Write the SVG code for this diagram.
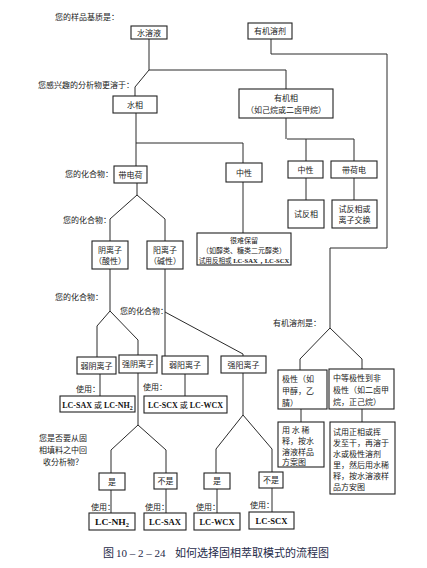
<svg xmlns="http://www.w3.org/2000/svg" width="427" height="568" viewBox="0 0 427 568">
<style>
.b{fill:#fff;stroke:#222;stroke-width:1.1}
.t{font-family:"Noto Sans CJK SC","Noto Sans",sans-serif;font-size:8px;fill:#1a1a1a}
.c{text-anchor:middle}
.lc{font-family:"Liberation Serif","Noto Sans CJK SC",serif;font-size:9px;font-weight:bold;fill:#111;text-anchor:middle}
.ln{fill:none;stroke:#2a2a2a;stroke-width:1}
.cap{font-family:"Liberation Serif","Noto Sans CJK SC",serif;font-size:11px;fill:#1e2a48}
.capc{font-family:"Noto Sans CJK SC",sans-serif;font-size:11px;fill:#1e2a48}
.cj{font-family:"Noto Sans CJK SC",sans-serif;font-weight:normal;font-size:8px}
</style>
<rect width="427" height="568" fill="#fff"/>
<g id="connectors" class="ln">
<path d="M149,39 V70 H286 V89"/>
<path d="M149,70 L135,87 V96"/>
<path d="M271,39 V54 H387 V248 H330 V328"/>
<path d="M330,328 L300,359 V370 M330,328 L362,359 V369"/>
<path d="M301,409 V422 M362,409 V422"/>
<path d="M136,113 V166 M136,143 H243 V163"/>
<path d="M243,182 V233"/>
<path d="M286,118 V139 M287,139 H354 M306,139 V161 M354,139 V161"/>
<path d="M306,178 V200 M354,178 V200"/>
<path d="M137,183 V195 L110,219 V241 M137,195 L165,219 V241"/>
<path d="M110,269 V311 L97,326 V357 M110,311 L138,340 V355"/>
<path d="M165,269 V356 M165,312 L243,354 V356"/>
<path d="M100,374 V396"/>
<path d="M138,373 V425 L111,450 V473 M138,425 L166,450 V473"/>
<path d="M185,374 V396"/>
<path d="M243,373 V415 L216,449 V473 M243,415 L272,449 V472"/>
<path d="M111,490 V513 M166,489 V513 M217,489 V513 M272,488 V512"/>
</g>
<g id="labels" class="t">
<text x="55" y="20">您的样品基质是：</text>
<text x="38" y="88">您感兴趣的分析物更溶于：</text>
<text x="65" y="177">您的化合物：</text>
<text x="63" y="223">您的化合物：</text>
<text x="55" y="300">您的化合物：</text>
<text x="120" y="314">您的化合物：</text>
<text x="273" y="326">有机溶剂是：</text>
<text x="76" y="392">使用：</text>
<text x="143" y="390">使用：</text>
<text x="91" y="510">使用：</text>
<text x="145" y="510">使用：</text>
<text x="196" y="510">使用：</text>
<text x="250" y="508">使用：</text>
<text x="63" y="441" class="c">您是否要从固</text>
<text x="63" y="453" class="c">相填料之中回</text>
<text x="63" y="465" class="c">收分析物？</text>
</g>
<g id="n_shuirongye"><rect class="b" x="131" y="26" width="36" height="13"/><text class="t c" x="149" y="35.5">水溶液</text></g>
<g id="n_youjirongji"><rect class="b" x="248" y="23" width="44" height="16"/><text class="t c" x="270" y="34">有机溶剂</text></g>
<g id="n_shuixiang"><rect class="b" x="113" y="96" width="44" height="17"/><text class="t c" x="135" y="107.5">水相</text></g>
<g id="n_youjixiang"><rect class="b" x="239" y="89" width="94" height="29"/><text class="t c" x="286" y="101">有机相</text><text class="t c" x="286" y="113">（如己烷或二卤甲烷）</text></g>
<g id="n_daidianhe"><rect class="b" x="114" y="166" width="33" height="17"/><text class="t c" x="130.5" y="177.5">带电荷</text></g>
<g id="n_zhongxing1"><rect class="b" x="226" y="163" width="36" height="19"/><text class="t c" x="244" y="175.5">中性</text></g>
<g id="n_zhongxing2"><rect class="b" x="288" y="161" width="35" height="17"/><text class="t c" x="305.5" y="172.5">中性</text></g>
<g id="n_daihedian"><rect class="b" x="331" y="161" width="46" height="17"/><text class="t c" x="354" y="172.5">带荷电</text></g>
<g id="n_shifanxiang"><rect class="b" x="288" y="200" width="36" height="28"/><text class="t c" x="306" y="217">试反相</text></g>
<g id="n_shifanxianghuo"><rect class="b" x="332" y="200" width="45" height="28"/><text class="t c" x="354.5" y="212">试反相或</text><text class="t c" x="354.5" y="223">离子交换</text></g>
<g id="n_yinlizi"><rect class="b" x="92" y="241" width="36" height="28"/><text class="t c" x="110" y="253">阴离子</text><text class="t c" x="110" y="264">（酸性）</text></g>
<g id="n_yanglizi"><rect class="b" x="147" y="241" width="36" height="28"/><text class="t c" x="165" y="253">阳离子</text><text class="t c" x="165" y="264">（碱性）</text></g>
<g id="n_hennan"><rect class="b" x="197" y="233" width="94" height="32"/><text class="t c" x="244" y="243" style="font-size:7px">很难保留</text><text class="t c" x="244" y="253" style="font-size:7px">（如醇类、糖类二元醇类）</text><text class="t c" x="244" y="262.5" style="font-size:6.6px">试用反相或 <tspan style="font-family:'Liberation Serif',serif;font-weight:bold">LC-SAX，LC-SCX</tspan></text></g>
<g id="n_ruoyin"><rect class="b" x="77" y="357" width="39" height="17"/><text class="t c" x="96.5" y="368.5">弱阴离子</text></g>
<g id="n_qiangyin"><rect class="b" x="119" y="355" width="38" height="18"/><text class="t c" x="138" y="367">强阴离子</text></g>
<g id="n_ruoyang"><rect class="b" x="162" y="356" width="46" height="18"/><text class="t c" x="185" y="368">弱阳离子</text></g>
<g id="n_qiangyang"><rect class="b" x="221" y="356" width="45" height="17"/><text class="t c" x="243.5" y="367.5">强阳离子</text></g>
<g id="n_lc1"><rect class="b" x="60" y="396" width="75" height="16"/><text class="lc" x="97.5" y="407.5" style="font-size:8px">LC-SAX <tspan class="cj">或</tspan> LC-NH<tspan style="font-size:6px" dy="2">2</tspan></text></g>
<g id="n_lc2"><rect class="b" x="144" y="396" width="83" height="17"/><text class="lc" x="185.5" y="408" style="font-size:8px">LC-SCX <tspan class="cj">或</tspan> LC-WCX</text></g>
<g id="n_jixing"><rect class="b" x="278" y="370" width="49" height="39"/><text class="t" x="282" y="382">极性（如</text><text class="t" x="282" y="394">甲醇，乙</text><text class="t" x="282" y="406">腈）</text></g>
<g id="n_zhongdeng"><rect class="b" x="329" y="369" width="65" height="40"/><text class="t" x="333" y="381">中等极性到非</text><text class="t" x="333" y="393">极性（如二卤甲</text><text class="t" x="333" y="405">烷，正己烷）</text></g>
<g id="n_yongshui"><rect class="b" x="278" y="422" width="46" height="45"/><text class="t" x="282" y="433">用 水 稀</text><text class="t" x="282" y="444">释，按水</text><text class="t" x="282" y="455">溶液样品</text><text class="t" x="282" y="465">方案图</text></g>
<g id="n_shiyong"><rect class="b" x="330" y="422" width="65" height="72"/><text class="t" x="333" y="435">试用正相或挥</text><text class="t" x="333" y="446">发至干，再溶于</text><text class="t" x="333" y="457">水或极性溶剂</text><text class="t" x="333" y="468">里，然后用水稀</text><text class="t" x="333" y="479">释，按水溶液样</text><text class="t" x="333" y="490">品方安图</text></g>
<g id="n_shi1"><rect class="b" x="99" y="473" width="26" height="17"/><text class="t c" x="112" y="484.5">是</text></g>
<g id="n_bushi1"><rect class="b" x="154" y="473" width="23" height="16"/><text class="t c" x="165.5" y="484">不是</text></g>
<g id="n_shi2"><rect class="b" x="204" y="473" width="26" height="16"/><text class="t c" x="217" y="484">是</text></g>
<g id="n_bushi2"><rect class="b" x="259" y="472" width="24" height="16"/><text class="t c" x="271" y="483">不是</text></g>
<g id="n_nh2"><rect class="b" x="89" y="513" width="46" height="17"/><text class="lc" x="112" y="525" textLength="34" lengthAdjust="spacingAndGlyphs">LC-NH<tspan style="font-size:6px" dy="2">2</tspan></text></g>
<g id="n_sax"><rect class="b" x="144" y="513" width="42" height="17"/><text class="lc" x="165" y="525" textLength="32" lengthAdjust="spacingAndGlyphs">LC-SAX</text></g>
<g id="n_wcx"><rect class="b" x="194" y="513" width="46" height="17"/><text class="lc" x="217" y="525" textLength="35" lengthAdjust="spacingAndGlyphs">LC-WCX</text></g>
<g id="n_scx"><rect class="b" x="249" y="512" width="45" height="17"/><text class="lc" x="271.5" y="524" textLength="32" lengthAdjust="spacingAndGlyphs">LC-SCX</text></g>
<g id="caption"><text x="103" y="557"><tspan class="capc">图</tspan><tspan class="cap" x="116">10 – 2 – 24</tspan><tspan class="capc" x="175">如何选择固相萃取模式的流程图</tspan></text></g>
</svg>
